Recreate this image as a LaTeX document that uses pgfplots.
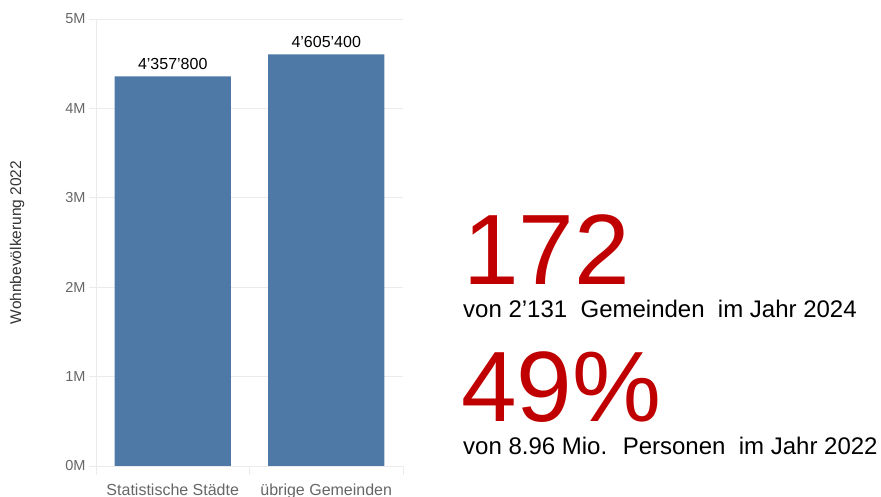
\documentclass[border=0pt]{standalone}
\usepackage{pgfplots}
\pgfplotsset{compat=1.18}
\usepackage{fontspec}
\setmainfont{Liberation Sans}
\definecolor{barblue}{HTML}{4E79A7}
\definecolor{kred}{HTML}{C00000}
\definecolor{gridc}{HTML}{EBEBEB}
\definecolor{tickc}{HTML}{666666}
\definecolor{labc}{HTML}{333333}
\begin{document}
\begin{tikzpicture}[x=1pt,y=1pt]
\useasboundingbox (0,0) rectangle (881,497);
\begin{axis}[
  at={(96pt,31pt)}, anchor=south west, scale only axis,
  width=307pt, height=447pt,
  xmin=-0.5, xmax=1.5, ymin=0, ymax=5000000,
  axis x line*=bottom, axis y line*=left,
  axis line style={gridc, line width=0.8pt},
  xtick={0,1}, xticklabels={Statistische Städte, übrige Gemeinden},
  minor xtick={-0.5,0.5,1.5},
  major x tick style={draw=none},
  minor x tick style={gridc, line width=0.8pt},
  minor tick length=9pt,
  ytick={0,1000000,2000000,3000000,4000000,5000000},
  yticklabels={0M,1M,2M,3M,4M,5M},
  scaled y ticks=false,
  ymajorgrids, grid style={gridc, line width=0.7pt},
  major y tick style={gridc, line width=0.7pt},
  tick align=outside, major tick length=7pt,
  /pgf/number format/assume math mode=true,
  yticklabel style={font=\fontsize{14.5}{16}\selectfont, text=tickc},
  xticklabel style={font=\fontsize{16}{18}\selectfont, text=tickc, yshift=-7pt},
  ylabel={Wohnbevölkerung 2022},
  ylabel style={font=\fontsize{15.5}{17}\selectfont, text=labc,
    at={(axis description cs:-0.257,0.5)}, anchor=center},
  ybar, bar width=116pt,
  nodes near coords, point meta=explicit symbolic,
  every node near coord/.append style={font=\fontsize{16}{18}\selectfont, text=black, yshift=3pt},
  clip=false,
]
\addplot[fill=barblue, draw=none] coordinates {(0,4357800) [4’357’800] (1,4605400) [4’605’400]};
\end{axis}
\node[anchor=base west, inner sep=0, text=kred, font=\fontsize{100}{100}\selectfont] at (463,212) {172};
\node[anchor=base west, inner sep=0, font=\fontsize{24}{26}\selectfont] at (463,179) {von 2’131 \ Gemeinden \ im Jahr 2024};
\node[anchor=base west, inner sep=0, text=kred, font=\fontsize{100}{100}\selectfont] at (461,75) {49\%};
\node[anchor=base west, inner sep=0, font=\fontsize{24}{26}\selectfont] at (463,42) {von 8.96 Mio. \ Personen \ im Jahr 2022};
\end{tikzpicture}
\end{document}
